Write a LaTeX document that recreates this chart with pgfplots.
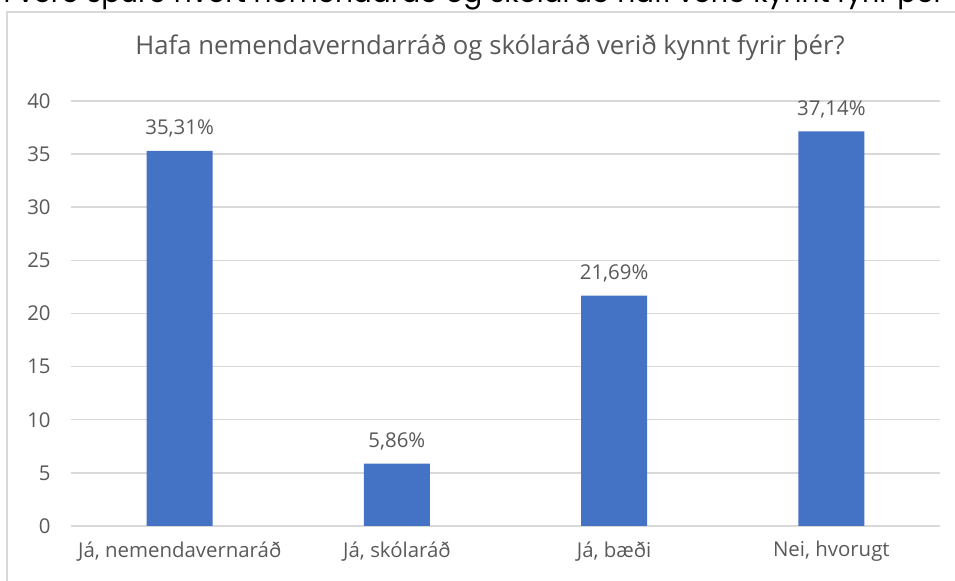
\documentclass[border=0pt]{standalone}
\usepackage{pgfplots}
\pgfplotsset{compat=1.18}
\usepackage{fontspec}
\setmainfont{Open Sans}
\newfontfamily\topfont{Poppins}
\definecolor{barblue}{HTML}{4472C4}
\definecolor{gridgray}{HTML}{D9D9D9}
\definecolor{txtgray}{HTML}{595959}
\begin{document}
\begin{tikzpicture}
\useasboundingbox (0,0) rectangle (477.5pt,290.5pt);
\begin{scope}
\clip (0,0) rectangle (477.5pt,290.5pt);
\node[anchor=base west, inner sep=0pt, font=\topfont\fontsize{14}{16}\selectfont] at (-4pt,289pt) {n verð spurð hvort nemendaráð og skólaráð hafi verið kynnt fyrir þér};
\end{scope}
\draw[gridgray, line width=0.8pt] (3.5pt,0pt) -- (3.5pt,284.5pt) -- (477.5pt,284.5pt);
\node[font=\fontsize{12.85}{14}\selectfont, text=txtgray] at (245pt,266.5pt) {Hafa nemendaverndarráð og skólaráð verið kynnt fyrir þér?};
\begin{axis}[
  at={(35.5pt,27.5pt)}, anchor=south west,
  scale only axis, width=434.5pt, height=212.5pt,
  ybar, bar width=33pt,
  xmin=-0.5, xmax=3.5, ymin=0, ymax=40,
  xtick=data,
  xticklabels={{Já, nemendavernaráð},{Já, skólaráð},{Já, bæði},{Nei, hvorugt}},
  ytick={0,5,...,40},
  ymajorgrids, grid style={gridgray, line width=0.75pt},
  axis line style={draw=none},
  major tick length=0pt,
  /pgf/number format/assume math mode=true,
  tick label style={font=\fontsize{10.2}{12}\selectfont, text=txtgray},
  yticklabel style={inner sep=0pt, xshift=-10pt},
  xticklabel style={inner sep=0pt, yshift=-7.5pt},
  point meta=explicit symbolic,
  nodes near coords,
  nodes near coords style={font=\fontsize{10.2}{12}\selectfont, text=txtgray, inner sep=0pt, anchor=south, yshift=6.5pt},
]
\addplot[fill=barblue, draw=none] coordinates {
  (0,35.31) [35,31\%]
  (1,5.86) [5,86\%]
  (2,21.69) [21,69\%]
  (3,37.14) [37,14\%]
};
\end{axis}
\end{tikzpicture}
\end{document}
